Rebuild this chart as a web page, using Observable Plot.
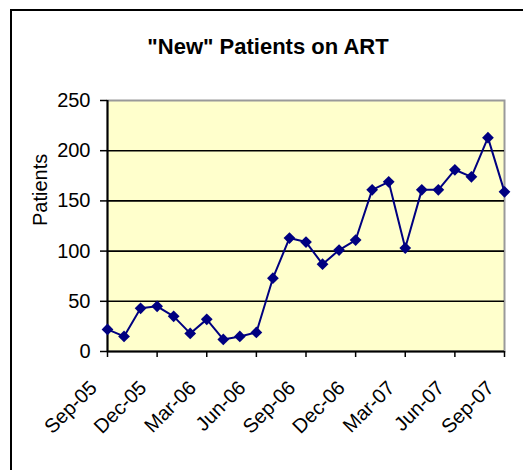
<!DOCTYPE html>
<html><head><meta charset="utf-8">
<script src="https://cdn.jsdelivr.net/npm/d3@7"></script>
<script src="https://cdn.jsdelivr.net/npm/@observablehq/plot@0.6"></script>
<style>
html,body{margin:0;padding:0;background:#fff;overflow:hidden;width:523px;height:470px}
#wrap{position:relative;width:523px;height:470px;overflow:hidden}
#chart{position:absolute;left:0;top:0}
#border{position:absolute;left:10px;top:9px;width:600px;height:600px;border:2px solid #000;box-shadow:1px 1px 0 #888;pointer-events:none}
</style></head>
<body><div id="wrap"><div id="chart"></div><div id="border"></div></div>
<script>
const months = ["Sep-05","Oct-05","Nov-05","Dec-05","Jan-06","Feb-06","Mar-06","Apr-06","May-06","Jun-06","Jul-06","Aug-06","Sep-06","Oct-06","Nov-06","Dec-06","Jan-07","Feb-07","Mar-07","Apr-07","May-07","Jun-07","Jul-07","Aug-07","Sep-07"];
const patients = [22,15,43,45,35,18,32,12,15,19,73,113,109,87,101,111,161,169,103,161,161,181,174,213,159];
const xTickLabels = ["Sep-05","Dec-05","Mar-06","Jun-06","Sep-06","Dec-06","Mar-07","Jun-07","Sep-07"];
const yTicks = [0,50,100,150,200,250];
const gridValues = [50,100,150,200];
const title = "\"New\" Patients on ART";
const yLabel = "Patients";

const data = months.map((m, i) => ({idx: i, month: m, patients: patients[i]}));
const xTicks = xTickLabels.map(l => months.indexOf(l));
const font = "'Liberation Sans', Arial, sans-serif";

const chart = Plot.plot({
  width: 523, height: 470,
  marginLeft: 107, marginRight: 19, marginTop: 100, marginBottom: 119,
  style: {fontFamily: font, fontSize: "20px", color: "#000", background: "transparent", overflow: "visible"},
  x: {type: "linear", domain: [0, months.length - 1]},
  y: {domain: [0, 250]},
  marks: [
    Plot.frame({fill: "#FFFFCC", stroke: "#9a9a9a", strokeWidth: 2}),
    Plot.gridY(gridValues, {stroke: "#000", strokeOpacity: 1, strokeWidth: 1.6}),
    Plot.axisY({ticks: yTicks, tickSize: 7, tickPadding: 10, label: null, fontSize: 20, stroke: "#000", strokeWidth: 1.5}),
    Plot.axisX({ticks: xTicks, tickSize: 6, tickFormat: () => "", label: null, stroke: "#000", strokeWidth: 1.5}),
    Plot.axisX({ticks: xTicks, tickSize: 0, tickRotate: -45, tickPadding: 33, dx: -14, tickFormat: i => months[i], label: null, fontSize: 20}),
    Plot.ruleX([0], {stroke: "#000", strokeWidth: 2}),
    Plot.ruleY([0], {stroke: "#000", strokeWidth: 2}),
    Plot.line(data, {x: "idx", y: "patients", stroke: "#000080", strokeWidth: 2}),
    Plot.dot(data, {x: "idx", y: "patients", symbol: "diamond2", r: 5.3, fill: "#000080", stroke: "none"}),
    Plot.text([title], {frameAnchor: "top", dx: -38, dy: -62, fontWeight: "bold", fontSize: 22}),
    Plot.text([yLabel], {frameAnchor: "left", dx: -67, rotate: -90, fontSize: 20})
  ]
});
document.getElementById("chart").appendChild(chart);
</script>
</body></html>
